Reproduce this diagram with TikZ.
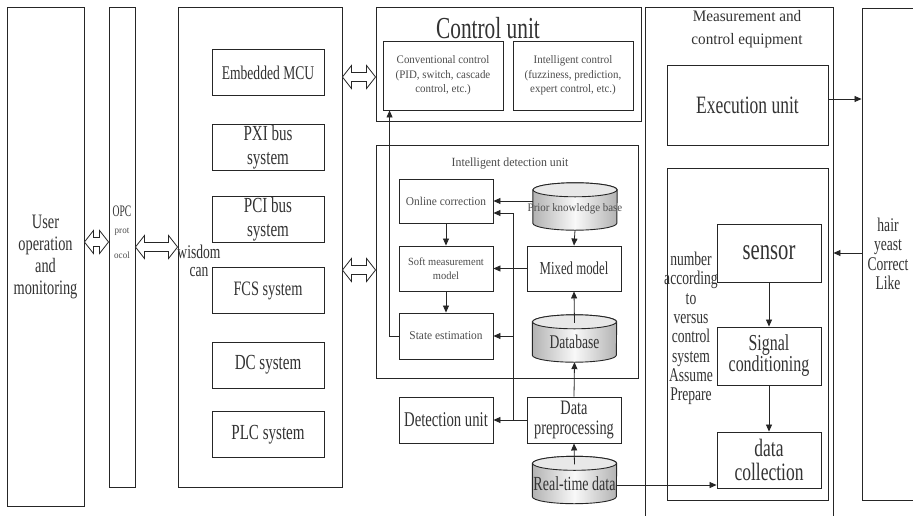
\documentclass[tikz,border=0pt]{standalone}
\usepackage{fontspec}
\setmainfont{Liberation Serif}[FakeStretch=0.7]
\newfontfamily\nfont{Liberation Serif}[FakeStretch=0.95]
\newfontfamily\tfont{Liberation Serif}[FakeStretch=0.6]
\usetikzlibrary{shapes.geometric,arrows.meta,calc}
\newcommand\fs[2]{\fontsize{#1}{#2}\selectfont}
% hollow double-headed block arrow between two points
\newcommand\dblarrow[2]{%
  \path[dblarr] let \p1=(#1), \p2=(#2) in
    (\x1,\y1) -- (\x1+9pt,\y1+11.5pt) -- (\x1+9pt,\y1+4.5pt)
    -- (\x2-9pt,\y2+4.5pt) -- (\x2-9pt,\y2+11.5pt) -- (\x2,\y2)
    -- (\x2-9pt,\y2-11.5pt) -- (\x2-9pt,\y2-4.5pt)
    -- (\x1+9pt,\y1-4.5pt) -- (\x1+9pt,\y1-11.5pt) -- cycle;}
% database drum drawn inside the frame of a named node
\newcommand\drum[1]{%
  \path[drumbody] let \p1=(#1.north west), \p2=(#1.south east) in
    (\x1,\y1-7pt) -- (\x1,\y2+7pt)
    arc[start angle=180, end angle=360, x radius=42pt, y radius=7pt]
    -- (\x2,\y1-7pt)
    arc[start angle=0, end angle=180, x radius=42pt, y radius=7pt] -- cycle;
  \path[drumtop] let \p1=(#1.north west), \p2=(#1.south east) in
    ({(\x1+\x2)/2},\y1-7pt) ellipse[x radius=42pt, y radius=7pt];}
\begin{document}
\begin{tikzpicture}[x=1pt,y=-1pt,
  every node/.style={text=black!80},
  box/.style n args={2}{draw=black!85, line width=0.9pt, rectangle, inner sep=0pt,
    minimum width=#1pt, minimum height=#2pt},
  sysbox/.style={box={112}{46}, font=\fs{21.5}{24}, align=center},
  frame/.style={rectangle, inner sep=0pt, minimum width=84pt, minimum height=47pt},
  drumbody/.style={draw=black!85, line width=0.9pt,
    left color=gray!60, right color=gray!60, middle color=gray!5},
  drumtop/.style={draw=black!85, line width=0.9pt, fill=gray!18},
  small/.style={text=black!70},
  arr/.style={draw=black!85, line width=0.8pt, -{Triangle[length=7pt,width=6pt]}},
  dblarr/.style={draw=black!85, line width=0.8pt, fill=white},
]
\path[fill=white] (0,0) rectangle (913,515);
\useasboundingbox (0,0) rectangle (913,515);

% ---- user side and OPC layer
\node[box={77}{499}, font=\fs{20.5}{22}, align=center] (user) at (45.5,256.5)
  {User\\operation\\and\\monitoring};
\node[box={26}{480}] (opc) at (122,247) {};
\node[font=\tfont\fs{16}{18}] (opcname) at (122,211) {OPC};
\node[small, font=\nfont\fs{9.5}{10}] (opcp1) at (122,232) {prot};
\node[small, font=\nfont\fs{9.5}{10}] (opcp2) at (122,255) {ocol};

% ---- field systems
\node[box={164}{480}] (wis) at (260,247) {};
\node[font=\fs{19.4}{18}, align=center] (wisname) at (199,261) {wisdom\\can};
\node[sysbox, font=\fs{19.4}{20}] (mcu) at (268,72.5) {Embedded MCU};
\node[sysbox] (pxi) at (268,147.5) {PXI bus\\system};
\node[sysbox] (pci) at (268,219.5) {PCI bus\\system};
\node[sysbox, font=\fs{20.5}{24}] (fcs) at (268,290.5) {FCS system};
\node[sysbox] (dcs) at (268,365) {DC system};
\node[sysbox] (plc) at (268,434.5) {PLC system};

% ---- control unit
\node[box={265}{114}] (ctrl) at (508.5,64) {};
\node[font=\fs{30.5}{30}] (ctitle) at (488,28) {Control unit};
\node[box={120}{69}, small, font=\nfont\fs{11.5}{14.5}, align=center] (conv) at (443,75.5)
  {Conventional control\\(PID, switch, cascade\\control, etc.)};
\node[box={120}{69}, small, font=\nfont\fs{11.5}{14.5}, align=center] (intl) at (573,75.5)
  {Intelligent control\\(fuzziness, prediction,\\expert control, etc.)};

% ---- intelligent detection unit
\node[box={262}{233}] (det) at (507,261.5) {};
\node[small, font=\nfont\fs{12.5}{14}] (dtitle) at (510,164) {Intelligent detection unit};
\node[box={94}{44}, small, font=\nfont\fs{12}{14}] (online) at (446,201) {Online correction};
\node[box={94}{45}, small, font=\nfont\fs{11}{14}, align=center] (soft) at (446,268.5)
  {Soft measurement\\model};
\node[box={94}{46}, small, font=\nfont\fs{12}{14}] (est) at (446,336) {State estimation};
\node[box={94}{45}, font=\fs{18.3}{18}] (mixed) at (574,268.5) {Mixed model};
\node[frame] (pkb) at (575,206.5) {};
\drum{pkb}
\node[small, font=\nfont\fs{11.5}{14}] (pkbtext) at (575,209) {Prior knowledge base};
\node[frame] (db) at (574.5,338.5) {};
\drum{db}
\node[font=\fs{19.4}{18}] (dbtext) at (574.5,342) {Database};
\node[box={94}{46}, font=\fs{21}{20}] (detu) at (446,420) {Detection unit};
\node[box={94}{46}, font=\fs{20.5}{20}, align=center] (prep) at (574,420) {Data\\preprocessing};
\node[frame] (rt) at (574.5,480) {};
\drum{rt}
\node[font=\fs{20}{18}] (rttext) at (574.5,484) {Real-time data};

% ---- measurement and control equipment
\node[box={188}{520}] (meas) at (739,267) {};
\node[font=\nfont\fs{16}{23}, align=center] (mtitle) at (747,29.5)
  {Measurement and\\control equipment};
\node[box={161}{80}, font=\fs{25}{24}] (exec) at (747.5,105) {Execution unit};
\node[box={161}{332}] (acq) at (747.5,334) {};
\node[box={104}{58}, font=\fs{29.5}{28}] (sensor) at (769,253) {sensor};
\node[box={104}{58}, font=\fs{22.8}{21}, align=center] (sig) at (769,356) {Signal\\conditioning};
\node[box={104}{56}, font=\fs{25}{24}, align=center] (dcol) at (769,460) {data\\collection};
\node[font=\fs{19.4}{19.3}, align=center] (acqtext) at (691,328.5)
  {number\\according\\to\\versus\\control\\system\\Assume\\Prepare};

% ---- controlled object
\node[box={70}{492}] (obj) at (897,254) {};
\node[font=\fs{19.4}{19.5}, align=center] (objtext) at (888,254) {hair\\yeast\\Correct\\Like};

% ---- block arrows between layers
\coordinate (ya) at (0,242);
\coordinate (yb) at (0,247);
\coordinate (yc) at (0,77);
\coordinate (yd) at (0,270);
\dblarrow{user.east|-ya}{opc.west|-ya}
\dblarrow{opc.east|-yb}{wis.west|-yb}
\dblarrow{wis.east|-yc}{ctrl.west|-yc}
\dblarrow{wis.east|-yd}{det.west|-yd}

% ---- detection data flow
\coordinate (bus) at (513,0);
\coordinate (onlow) at ([yshift=-12pt]online.east);
\draw[arr] (pkb.west |- online.east) -- (online.east);
\draw[arr] (prep.west) -- (detu.east);
\draw[arr] (bus |- detu.east) -- (bus |- onlow) -- (onlow);
\draw[arr] (bus |- est.east) -- (est.east);
\draw[arr] (mixed.west) -- (soft.east);
\draw[arr] (online.south) -- (soft.north);
\draw[arr] (soft.south) -- (est.north);
\draw[arr] (pkb.south) -- (mixed.north);
\draw[arr] ([yshift=-8pt]db.north) -- (mixed.south);
\draw[arr] (prep.north) -- (db.south);
\draw[arr] ([yshift=-8pt]rt.north) -- (prep.south);
\draw[arr] ([yshift=-5pt]rt.east) -- ([yshift=-5pt]rt.east -| dcol.west);
\draw[arr] (est.west) -| ([xshift=7pt]conv.south west);

% ---- equipment flow
\draw[arr] ([yshift=6pt]exec.east) -- ([yshift=6pt]exec.east -| obj.west);
\draw[arr] (obj.west |- sensor) -- (meas.east |- sensor);
\draw[arr] (sensor.south) -- (sig.north);
\draw[arr] (sig.south) -- (dcol.north);
\end{tikzpicture}
\end{document}
